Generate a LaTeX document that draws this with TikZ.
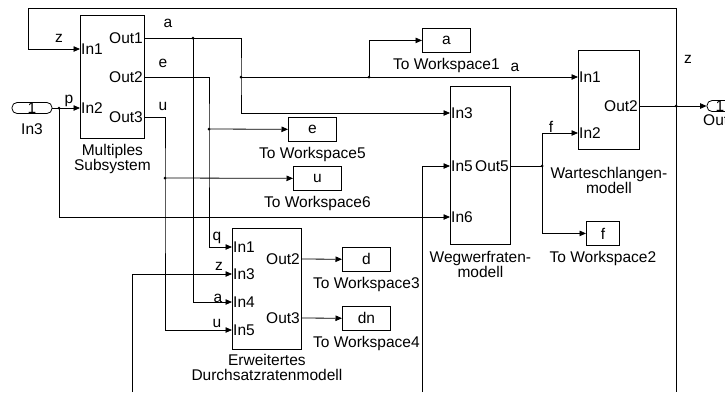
\documentclass[tikz,border=0pt]{standalone}
\usepackage{fontspec}
\setmainfont{Liberation Sans}
\usetikzlibrary{arrows.meta,positioning}

\begin{document}
\begin{tikzpicture}[x=1pt, y=-1pt, >={Triangle[length=6.5pt,width=5.5pt]},
  every node/.style={font=\fontsize{15.5}{15.5}\selectfont, inner sep=0pt},
  wire/.style={line width=0.8pt},
  blk/.style={draw, line width=0.8pt, anchor=north west},
  wsp/.style={blk, minimum height=24pt, minimum width=48pt},
  portbox/.style={draw, line width=0.8pt, rounded corners=5pt, minimum height=11pt},
  inlbl/.style={anchor=west, xshift=1pt},
  outlbl/.style={anchor=east, xshift=-1pt},
  blkcap/.style={align=center, anchor=north},
  siglbl/.style={anchor=base}]
  \useasboundingbox (0,0) rectangle (725,392);
  \clip (0,0) rectangle (725,392);

  % ports
  \node[portbox, minimum width=40pt] (in3) at (32,108) {1};
  \node[blkcap, below=10pt of in3] (in3-t) {In3};
  \node[portbox, minimum width=26pt] (out1) at (720,106) {1};
  \node[blkcap, below=3pt of out1] (out1-t) {Out1};

  % Multiples Subsystem
  \node[blk, minimum width=64pt, minimum height=123pt] (ms) at (80,15) {};
  \foreach \n/\t/\y in {in1/In1/49, in2/In2/108}
    {\coordinate (ms-\n) at (80,\y); \node[inlbl] (ms-\n-t) at (ms-\n) {\t};}
  \foreach \n/\t/\y in {out1/Out1/38, out2/Out2/77, out3/Out3/117}
    {\coordinate (ms-\n) at (144,\y); \node[outlbl] (ms-\n-t) at (ms-\n) {\t};}
  \node[blkcap, below=5pt of ms] (ms-t) {Multiples\\Subsystem};

  % Erweitertes Durchsatzratenmodell
  \node[blk, minimum width=69pt, minimum height=121pt] (ew) at (232,228) {};
  \foreach \n/\t/\y in {in1/In1/247, in3/In3/274, in4/In4/302, in5/In5/330}
    {\coordinate (ew-\n) at (232,\y); \node[inlbl] (ew-\n-t) at (ew-\n) {\t};}
  \foreach \n/\t/\y in {out2/Out2/259, out3/Out3/318}
    {\coordinate (ew-\n) at (301,\y); \node[outlbl] (ew-\n-t) at (ew-\n) {\t};}
  \node[blkcap, below=4pt of ew] (ew-t) {Erweitertes\\Durchsatzratenmodell};

  % Wegwerfratenmodell
  \node[blk, minimum width=60pt, minimum height=158pt] (wf) at (450,86) {};
  \foreach \n/\t/\y in {in3/In3/113, in5/In5/166, in6/In6/217}
    {\coordinate (wf-\n) at (450,\y); \node[inlbl] (wf-\n-t) at (wf-\n) {\t};}
  \coordinate (wf-out5) at (510,166);
  \node[outlbl] (wf-out5-t) at (wf-out5) {Out5};
  \node[blkcap, below=6pt of wf] (wf-t) {Wegwerfraten-\\modell};

  % Warteschlangenmodell
  \node[blk, minimum width=61pt, minimum height=99pt] (wq) at (578,50) {};
  \foreach \n/\t/\y in {in1/In1/77, in2/In2/133}
    {\coordinate (wq-\n) at (578,\y); \node[inlbl] (wq-\n-t) at (wq-\n) {\t};}
  \coordinate (wq-out2) at (639,106);
  \node[outlbl] (wq-out2-t) at (wq-out2) {Out2};
  \node[blkcap, below=17pt of wq] (wq-t) {Warteschlangen-\\modell};

  % To Workspace blocks
  \node[wsp] (ws1) at (422,28) {a};
  \node[wsp] (ws5) at (288,117) {e};
  \node[wsp] (ws6) at (293,166) {u};
  \node[wsp] (ws3) at (342,247) {d};
  \node[wsp] (ws4) at (342,306) {dn};
  \node[wsp, minimum width=33pt] (ws2) at (586,221) {f};
  \foreach \w in {1,5,6,3,4,2}
    \node[blkcap, below=5pt of ws\w] (ws\w-t) {To Workspace\w};

  % branch points
  \coordinate (a1) at (193,38);
  \coordinate (a2) at (241,77);
  \coordinate (a3) at (369,77);
  \coordinate (e1) at (209,129);
  \coordinate (u1) at (165,178);
  \coordinate (p1) at (59,108);
  \coordinate (z1) at (676,106);
  \coordinate (z2) at (28,8);
  \coordinate (z3) at (676,392);
  \coordinate (z4) at (132,392);
  \coordinate (f1) at (542,166);
  \coordinate (w1) at (422,392);

  % signals
  \draw[wire,->] (ms-out1) -| (a2) |- (wf-in3);
  \draw[wire,->] (a1) |- (ew-in4);
  \draw[wire,->] (a2) -- (wq-in1);
  \draw[wire,->] (a3) |- (ws1);
  \draw[wire,->] (ms-out2) -| (e1) |- (ew-in1);
  \draw[wire,->] (e1) -- (ws5);
  \draw[wire,->] (ms-out3) -| (u1) |- (ew-in5);
  \draw[wire,->] (u1) -- (ws6);
  \draw[wire,->] (in3) -- (ms-in2);
  \draw[wire,->] (p1) |- (wf-in6);
  \draw[wire,->] (wq-out2) -- (out1);
  \draw[wire,->] (z1) |- (z2) |- (ms-in1);
  \draw[wire] (z1) -- (z3);
  \draw[wire,->] (z4) |- (ew-in3);
  \draw[wire] (wf-out5) -- (f1);
  \draw[wire,->] (f1) |- (wq-in2);
  \draw[wire,->] (f1) |- (ws2);
  \draw[wire,->] (ew-out2) -- (ws3);
  \draw[wire,->] (ew-out3) -- (ws4);
  \draw[wire,->] (w1) |- (wf-in5);
  \foreach \c in {a1,a2,a3,e1,u1,p1,z1,f1}
    \fill (\c) circle (1.5);

  % signal names
  \node[siglbl] (s-a) at (168,27) {a};
  \node[siglbl] (s-e) at (163,67) {e};
  \node[siglbl] (s-u) at (163,110) {u};
  \node[siglbl] (s-z) at (59,42) {z};
  \node[siglbl] (s-p) at (69,103) {p};
  \node[siglbl] (s-a2) at (515,71) {a};
  \node[siglbl] (s-f) at (551,132) {f};
  \node[siglbl] (s-z2) at (688,63) {z};
  \node[siglbl] (s-q) at (217,240) {q};
  \node[siglbl] (s-z3) at (219,270) {z};
  \node[siglbl] (s-a3) at (218,302) {a};
  \node[siglbl] (s-u2) at (217,327) {u};
\end{tikzpicture}
\end{document}
